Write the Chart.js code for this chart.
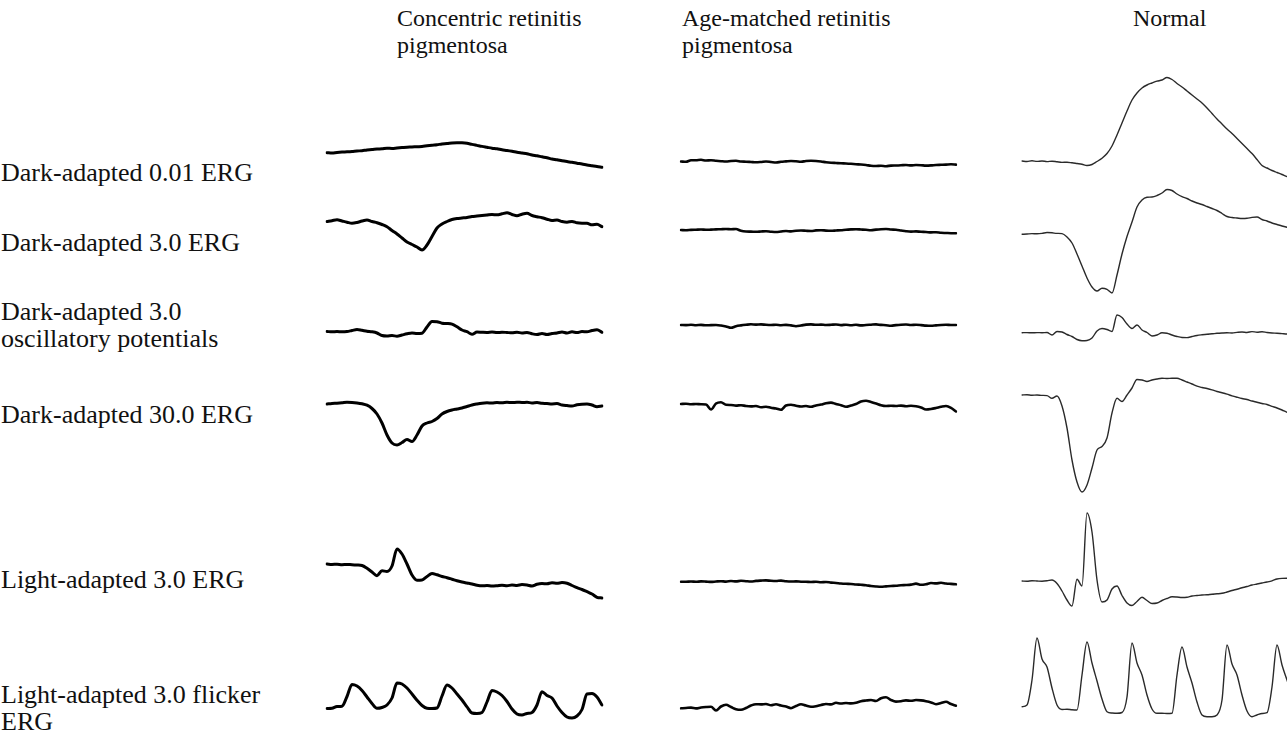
<!DOCTYPE html>
<html><head><meta charset="utf-8">
<script src="https://cdn.jsdelivr.net/npm/chart.js@4/dist/chart.umd.min.js"></script>
<style>
html,body{margin:0;padding:0;background:#fff;overflow:hidden;width:1287px;height:735px;}
#stage{position:relative;width:1287px;height:735px;overflow:hidden;background:#fff;}
.txt{position:absolute;font-family:"Liberation Serif","Times New Roman",serif;color:#111;white-space:nowrap;}
.title{font-size:24px;line-height:27px;}
.label{font-size:26px;line-height:26.5px;}
canvas{position:absolute;}
</style></head><body><div id="stage"></div>
<script>
// ---- text ----
const columnTitles = [["Concentric retinitis","pigmentosa"],["Age-matched retinitis","pigmentosa"],["Normal"]];
const rowLabels = [["Dark-adapted 0.01 ERG"],["Dark-adapted 3.0 ERG"],["Dark-adapted 3.0","oscillatory potentials"],["Dark-adapted 30.0 ERG"],["Light-adapted 3.0 ERG"],["Light-adapted 3.0 flicker","ERG"]];

// ---- traces (amplitude, arbitrary units, positive up; 56 equal time samples) ----
const concentricDA001 = [7.3,7.0,7.6,8.0,8.2,8.5,9.0,9.3,10.0,10.4,11.0,11.2,11.8,11.6,12.0,12.4,12.8,13.0,13.3,13.5,14.2,14.8,15.3,16.0,16.4,17.0,17.3,17.2,16.7,15.6,14.6,13.6,12.7,11.8,11.2,10.2,9.6,8.8,7.8,7.0,6.2,5.0,4.2,3.2,2.3,1.0,0.2,-0.8,-1.6,-2.3,-3.2,-4.0,-5.0,-5.8,-6.6,-7.3];
const concentricDA3 = [8.5,9.3,10.2,9.0,7.8,6.7,7.5,9.0,10.0,8.5,7.3,5.5,3.3,-0.5,-4,-8,-12,-14.5,-17,-20,-15,-6.5,2,6,8.5,10.5,11.5,12,12.5,13.5,14,14.5,15,15.5,15.2,16.2,17.3,15.5,14.2,15.8,16.7,14.5,13.3,12.3,10.8,9.5,10.0,8.5,7.8,8.6,7.2,6.8,6.7,5.2,5.8,3.3];
const concentricOP = [-1.5,-1.8,-1.5,-1.8,-1.5,-0.5,0.5,-0.3,-1.2,-1.8,-3.0,-5.5,-6,-5.5,-6.2,-5.0,-3.8,-3.0,-3.5,-3.2,3.0,8.5,8.3,6.8,6.5,5.8,3.2,0.0,-1.7,-4.3,-2.0,-2.3,-2.5,-2.0,-2.6,-2.2,-2.5,-2.8,-2.2,-3.0,-2.5,-3.8,-4.5,-3.6,-4.5,-3.5,-3.0,-2.0,-3.0,-1.8,-2.6,-1.5,-1.8,-0.5,0.2,-2.3];
const concentricDA30 = [-4,-3.5,-3.2,-2.8,-2.3,-2.5,-3,-3.8,-5.2,-8.5,-14,-23,-35,-43,-45,-42.5,-39.5,-41.5,-35,-26,-23,-21.5,-18.5,-14,-11.5,-10,-9,-8,-6.5,-5,-4,-3.2,-2.8,-3,-2.5,-2.8,-2.3,-2.6,-2.2,-2.5,-2.3,-3,-2.6,-3.2,-3.5,-3.9,-3.6,-5,-5.6,-6,-4.8,-4.2,-4,-5,-6.7,-6];
const concentricLA = [16,15.5,15.8,15.3,15.6,15.2,15.0,14.5,11.7,8,4.3,9.3,8.5,14,31,26,16,5,-0.2,0,3.5,6.5,5.2,3.5,2.3,0.8,-0.8,-2,-3,-4,-5.2,-5.8,-5.5,-6,-5.7,-5.2,-5.8,-5,-5.4,-4.6,-5,-6,-4.2,-3.5,-3.8,-2.8,-3.2,-2.6,-3.3,-5.5,-7.7,-9.5,-11.7,-14,-17.3,-18];
const concentricFlicker = [-3.5,-3.3,-1.5,-1.2,8.5,20.5,19,14.5,8,1.5,-3.3,-2.5,0,7,22,21,17,11,4.8,-0.5,-3.3,-3.5,-3,9,20,17,11,5,-1.8,-8,-8.5,-7.5,3,14.5,13,9.5,3.5,-4,-9,-10,-8.5,-7.5,0,13.3,9.5,7,-1,-7.5,-12,-13,-11,-4.5,11,11.5,8,0];

const agedDA001 = [-1.5,-1.8,-0.3,-0.2,0.2,-0.5,-0.3,-0.8,-1.2,-1.5,-1.0,-0.8,-1.5,-1.7,-2.0,-2.3,-2.0,-1.5,-2.0,-2.5,-1.8,-1.4,-1.0,-1.3,-1.8,-1.0,-0.8,-1.0,-1.5,-2.2,-2.7,-3.0,-3.3,-3.5,-3.8,-4.2,-4.5,-5.0,-5.8,-6.0,-5.8,-6.2,-5.6,-5.5,-5.3,-5.0,-5.4,-5.0,-5.2,-5.6,-5.4,-5.0,-4.8,-4.6,-4.3,-4.6];
const agedDA3 = [0,-0.2,0.1,0.3,0.5,0.2,0.4,0.6,0.8,1.0,0.8,1.0,-0.8,-1.5,-1.6,-1.8,-1.5,-1.2,-1.7,-2.0,-1.5,-1.0,-1.4,-0.7,-0.5,-0.8,-1.0,-0.4,-0.2,-0.6,-0.8,-0.5,-0.2,0.3,0.6,0.8,0.5,0.2,-0.2,0.4,0.8,1.0,0.5,0.2,-0.5,-1.2,-1.6,-1.4,-1.8,-2.0,-2.4,-2.2,-2.8,-3.0,-3.2,-3.3];
const agedOP = [5,4.9,5.2,4.8,5.1,4.7,4.9,5.0,4.5,3.6,2.2,3.8,4.6,5.2,5.7,5.4,5.6,5.2,5.0,5.3,4.8,5.1,4.6,3.8,4.5,5.4,5.6,5.2,5.4,5.0,5.2,5.5,4.9,5.3,4.8,5.2,4.6,5.0,5.3,5.6,5.1,4.8,4.3,4.9,5.3,5.5,5.0,5.2,4.9,4.4,4.2,4.6,5.0,5.2,5.0,5.0];
const agedDA30 = [-4,-3.8,-4.2,-4.0,-4.3,-4.5,-9.5,-3.5,-2.2,-4.8,-5.0,-5.6,-5.2,-6.0,-6.4,-6.0,-7.2,-6.8,-7.8,-8.5,-9.8,-5.5,-4.8,-5.8,-6.5,-6.0,-6.8,-5.4,-4.6,-3.2,-2.6,-4.0,-5.2,-6.8,-5.5,-4.0,-1.5,-0.8,-2.0,-3.5,-5.2,-6.0,-5.8,-6.0,-5.6,-6.2,-5.8,-6.3,-7.5,-9.5,-9.0,-8.0,-6.8,-6.0,-7.8,-11.5];
const agedLA = [-1.7,-1.8,-1.5,-1.8,-1.4,-1.6,-1.9,-1.5,-1.2,-1.6,-1.0,-1.4,-0.8,-1.2,-1.5,-0.9,-0.6,-0.4,-0.8,-1.0,-0.6,-1.2,-1.5,-1.4,-1.7,-1.8,-2.0,-1.7,-2.2,-2.0,-2.6,-3.0,-3.5,-3.8,-4.0,-4.5,-4.8,-5.2,-6.0,-6.5,-6.8,-6.4,-6.0,-5.8,-5.2,-5.0,-4.6,-3.6,-4.8,-4.2,-3.0,-3.4,-2.8,-3.5,-3.9,-4.3];
const agedFlicker = [-3.3,-3.0,-2.6,-3.4,-2.5,-2.0,-1.7,-5.5,-1.5,0.2,-2.0,-4.2,-4.8,-3.0,-0.5,0.8,0.6,1.0,-0.2,0.8,-0.5,-1.5,-3.2,-1.0,0.8,-0.6,-1.8,-1.2,0.0,1.0,0.6,2.2,1.5,2.0,1.6,2.3,3.8,4.5,5.0,4.0,6.8,7.8,5.0,3.4,3.8,4.6,4.2,5.0,4.6,3.8,2.6,0.8,2.0,3.2,1.0,-0.7];

const normalDA001 = [-1,-1.5,-0.8,-1.4,-1.0,-1.6,-1.2,-1.8,-2.4,-2.2,-2.8,-3.5,-4.2,-5.5,-4.5,-1.5,1.8,6.5,14,25,37,49,60,67,72,75,77,78.8,80,82.5,80.5,76.5,73,69,65,61,57,52,46.5,41,36,31,26.5,21.5,16.5,11.5,6.5,0.5,-5.5,-8,-10.5,-12.5,-14.5,-16.7,-18,-19];
const normalDA3 = [-4.3,-4.0,-3.6,-3.8,-3.4,-2.5,-2.8,-3.4,-3.6,-7,-13,-24,-36,-48,-57,-61,-58.3,-59.3,-63,-45,-24,-6.5,8,23,30,32.7,33,34.5,37,40.5,39.5,36,33.3,31.5,29,27,25.5,23.5,21.5,19.5,16.5,13.5,12.5,12,11.5,11.7,12.6,13,10.5,9,7,5.5,4,2.7,1.5,0.5];
const normalOP = [-2.7,-2.6,-2.8,-2.6,-2.7,-2.5,-5,-1.5,-2,-4.5,-6.5,-9.5,-10.7,-10.5,-8,-1,1.5,0.5,-1.5,15,12.5,6,1.5,5,0,-2.5,-6,-5,-2.8,-3.2,-5,-6.5,-7.5,-7.6,-6.5,-5.5,-4.8,-4.2,-3.8,-3.3,-3.0,-2.8,-3.0,-2.4,-2.0,-2.5,-1.6,-2.2,-1.7,-2.5,-3.0,-3.2,-3.6,-4.0,-4.2,-4.3];
const normalDA30 = [5,5.2,4.8,5.0,4.6,4.4,1.7,4.0,-6,-28,-60,-82,-92,-85,-68,-50,-46.5,-38,-13,1.7,-1.5,5,12,20.5,20,18.5,20,21,21.7,21.5,21.8,21.7,20,18,16,13.8,12.5,11.5,10.2,8.5,7.2,5.8,4.2,2.8,1.5,0.5,-1,-2.2,-3.5,-4.5,-6.3,-8,-10,-12.3,-13.5,-14.5];
const normalLA = [-1,-1.2,-0.8,-1.0,-1.2,-0.8,0,-3.5,-11,-20,-26,0.7,-6,67,48,0,-22,-20,-9,-6,-15.5,-23,-25.5,-21.5,-17.3,-20.5,-23.5,-23,-20.5,-18.5,-16.7,-17,-17.5,-17.2,-16,-15.5,-15,-14.8,-14.2,-13.8,-13.3,-12,-10.5,-9.2,-7.8,-6.5,-5,-4,-3,-2,-0.8,1,1.6,1.7,1.5,1.2];
const normalFlicker = [-1.7,0,25,67,46,38,17,0,-4.5,-4.3,-4.8,-5,30,63,42,24,6,-6.7,-8,-8.3,-7.5,8,62,42,30,10,-4,-8.3,-8.3,-8.5,-8.3,30,58,38,22,3,-10,-11.7,-11.7,-10,5,60,41,30,10,-6,-11.7,-10,-8.5,-7.7,18,60,40,25,10,-3];

// ---- layout (styles/positions) ----
const SPAN = 275, PAD = 4;
const columnLeft = [327, 681, 1022];
const columnStyle = [{color:'#000', width:3}, {color:'#050505', width:2.6}, {color:'#2a2a2a', width:1.4}];
const rowGeom = [
  {zero:160, top:65, bottom:190},
  {zero:230, top:180, bottom:305},
  {zero:330, top:305, bottom:350},
  {zero:400, top:365, bottom:500},
  {zero:580, top:500, bottom:620},
  {zero:705, top:625, bottom:725}
];
const titleLeft = [397, 682, 1133], titleTop = 5;
const labelTop = [160, 230, 299, 402, 567, 682];

const traces = [
  [concentricDA001, agedDA001, normalDA001],
  [concentricDA3, agedDA3, normalDA3],
  [concentricOP, agedOP, normalOP],
  [concentricDA30, agedDA30, normalDA30],
  [concentricLA, agedLA, normalLA],
  [concentricFlicker, agedFlicker, normalFlicker]
];

const stage = document.getElementById('stage');
function addText(lines, left, top, cls){
  const d = document.createElement('div');
  d.className = 'txt ' + cls;
  d.style.left = left + 'px'; d.style.top = top + 'px';
  d.innerHTML = lines.map(s => s.replace(/&/g,'&amp;').replace(/</g,'&lt;')).join('<br>');
  stage.appendChild(d);
}
columnTitles.forEach((t, i) => addText(t, titleLeft[i], titleTop, 'title'));
rowLabels.forEach((t, i) => addText(t, 1, labelTop[i], 'label'));

traces.forEach((row, r) => row.forEach((vals, c) => {
  const g = rowGeom[r];
  const cv = document.createElement('canvas');
  const w = SPAN + 2*PAD, h = (g.bottom - g.top) + 2*PAD;
  cv.width = w; cv.height = h;
  cv.style.width = w + 'px'; cv.style.height = h + 'px';
  cv.style.left = (columnLeft[c] - PAD) + 'px';
  cv.style.top = (g.top - PAD) + 'px';
  stage.appendChild(cv);
  new Chart(cv, {
    type: 'line',
    data: { labels: vals.map((_, i) => i),
      datasets: [{ data: vals, borderColor: columnStyle[c].color, borderWidth: columnStyle[c].width,
        pointRadius: 0, fill: false, cubicInterpolationMode: 'monotone', borderJoinStyle: 'round', borderCapStyle: 'round' }] },
    options: {
      responsive: false, animation: false, events: [],
      layout: { padding: PAD },
      plugins: { legend: { display: false }, tooltip: { enabled: false } },
      scales: {
        x: { display: false },
        y: { display: false, min: g.zero - g.bottom, max: g.zero - g.top }
      }
    }
  });
}));
</script>
</body></html>
